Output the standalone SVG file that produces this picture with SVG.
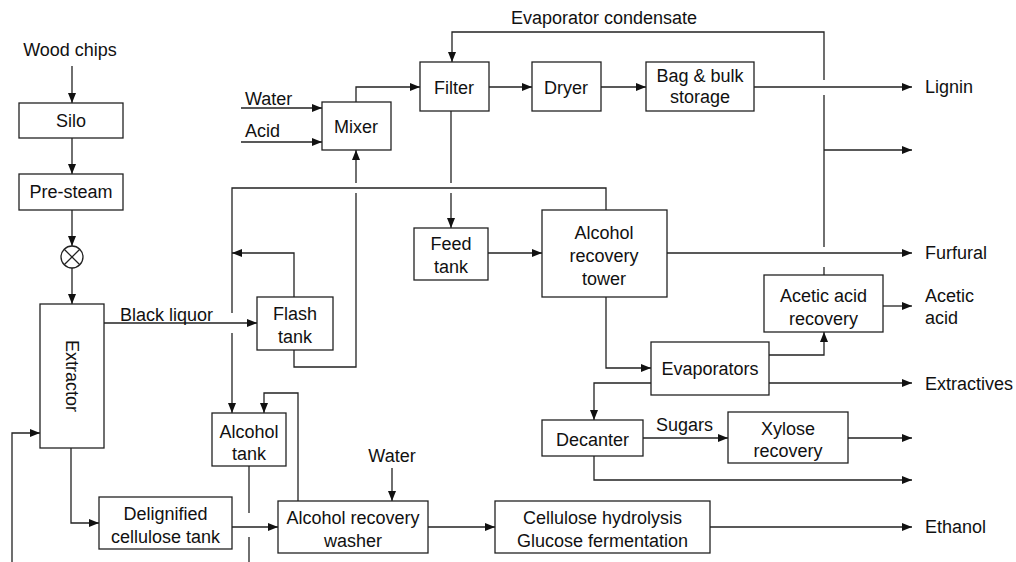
<svg xmlns="http://www.w3.org/2000/svg" width="1016" height="562" viewBox="0 0 1016 562">
  <style>
    .box { fill: #fff; stroke: #222; stroke-width: 1.3; }
    .ln { fill: none; stroke: #222; stroke-width: 1.3; }
    .arr { marker-end: url(#ah); }
    text { font-family: "Liberation Sans", Arial, sans-serif; font-size: 18px; fill: #111; }
    .c { text-anchor: middle; }
  </style>
  <defs>
    <marker id="ah" viewBox="0 0 10 8" refX="10" refY="4" markerWidth="10" markerHeight="8" markerUnits="userSpaceOnUse" orient="auto">
      <path d="M0,0 L10,4 L0,8 z" fill="#111"/>
    </marker>
  </defs>
  <rect width="1016" height="562" fill="#fff"/>

  <!-- connectors -->
  <g id="connectors">
    <!-- feed line -->
    <path class="ln arr" d="M72,66 V103"/>
    <path class="ln arr" d="M72,138 V174"/>
    <path class="ln arr" d="M72,210 V246"/>
    <path class="ln arr" d="M72,268 V304"/>
    <!-- water and acid into mixer -->
    <path class="ln arr" d="M241,108 H322"/>
    <path class="ln arr" d="M241,142 H322"/>
    <!-- mixer to filter -->
    <path class="ln arr" d="M356,102 V87 H420"/>
    <!-- evaporator condensate return -->
    <path class="ln arr" d="M824,80 V32 H452 V62"/>
    <path class="ln" d="M824,95 V247"/>
    <path class="ln" d="M824,267 V275"/>
    <path class="ln arr" d="M824,150 H912"/>
    <!-- filter / dryer / storage / lignin -->
    <path class="ln arr" d="M489,87 H532"/>
    <path class="ln arr" d="M601,87 H646"/>
    <path class="ln arr" d="M754,87 H912"/>
    <!-- filter to feed tank -->
    <path class="ln" d="M451,111 V183"/>
    <path class="ln arr" d="M451,193 V228"/>
    <!-- tower top recycle to alcohol tank -->
    <path class="ln" d="M606,210 V188 H232 V313"/>
    <path class="ln arr" d="M232,333 V413"/>
    <!-- flash tank vapour -->
    <path class="ln arr" d="M294,297 V253 H232"/>
    <!-- flash tank liquid to mixer -->
    <path class="ln" d="M294,350 V367 H356 V193"/>
    <path class="ln arr" d="M356,183 V150"/>
    <!-- black liquor -->
    <path class="ln arr" d="M104,323 H257"/>
    <!-- extractor to delignified tank -->
    <path class="ln arr" d="M71,448 V523 H99"/>
    <!-- recycle into extractor -->
    <path class="ln arr" d="M12,562 V433 H40"/>
    <!-- alcohol tank outlet -->
    <path class="ln" d="M249,466 V513"/>
    <path class="ln" d="M249,537 V562"/>
    <!-- delignified tank to washer -->
    <path class="ln arr" d="M232,527 H278"/>
    <!-- washer return to alcohol tank -->
    <path class="ln arr" d="M298,501 V393 H264 V413"/>
    <!-- water into washer -->
    <path class="ln arr" d="M392,468 V501"/>
    <!-- washer to hydrolysis, ethanol -->
    <path class="ln arr" d="M428,527 H495"/>
    <path class="ln arr" d="M710,527 H912"/>
    <!-- feed tank to tower, furfural -->
    <path class="ln arr" d="M488,253 H542"/>
    <path class="ln arr" d="M667,253 H912"/>
    <!-- tower bottoms to evaporators -->
    <path class="ln arr" d="M606,297 V368 H651"/>
    <!-- evaporators outputs -->
    <path class="ln arr" d="M769,355 H824 V332"/>
    <path class="ln arr" d="M769,383 H912"/>
    <path class="ln arr" d="M651,383 H594 V420"/>
    <!-- acetic acid -->
    <path class="ln arr" d="M883,306 H912"/>
    <!-- decanter outputs -->
    <path class="ln arr" d="M643,438 H728"/>
    <path class="ln arr" d="M848,438 H912"/>
    <path class="ln arr" d="M594,456 V480 H912"/>
  </g>

  <!-- stream labels -->
  <text x="70" y="56" class="c">Wood chips</text>
  <text x="245" y="105">Water</text>
  <text x="245" y="137">Acid</text>
  <text x="511" y="24">Evaporator condensate</text>
  <text x="925" y="93">Lignin</text>
  <text x="925" y="259">Furfural</text>
  <text x="925" y="302">Acetic</text>
  <text x="925" y="324">acid</text>
  <text x="925" y="390">Extractives</text>
  <text x="925" y="533">Ethanol</text>
  <text x="120" y="321">Black liquor</text>
  <text x="392" y="462" class="c">Water</text>
  <text x="656" y="431">Sugars</text>

  <!-- nodes -->
  <g id="silo"><rect class="box" x="19" y="103" width="104" height="35"/><text x="71" y="127" class="c">Silo</text></g>
  <g id="pre-steam"><rect class="box" x="19" y="174" width="104" height="36"/><text x="71" y="198" class="c">Pre-steam</text></g>
  <g id="valve">
    <circle class="box" cx="72" cy="257" r="11"/>
    <path class="ln" d="M64.2,249.2 L79.8,264.8 M79.8,249.2 L64.2,264.8"/>
  </g>
  <g id="extractor"><rect class="box" x="40" y="304" width="64" height="144"/><text transform="translate(66,376) rotate(90)" class="c">Extractor</text></g>
  <g id="mixer"><rect class="box" x="322" y="102" width="69" height="48"/><text x="356" y="133" class="c">Mixer</text></g>
  <g id="filter"><rect class="box" x="420" y="62" width="69" height="49"/><text x="454" y="94" class="c">Filter</text></g>
  <g id="dryer"><rect class="box" x="532" y="62" width="69" height="49"/><text x="566" y="94" class="c">Dryer</text></g>
  <g id="storage"><rect class="box" x="646" y="62" width="108" height="49"/><text x="700" y="82" class="c">Bag &amp; bulk</text><text x="700" y="103" class="c">storage</text></g>
  <g id="feed-tank"><rect class="box" x="414" y="228" width="74" height="52"/><text x="451" y="250" class="c">Feed</text><text x="451" y="273" class="c">tank</text></g>
  <g id="tower"><rect class="box" x="542" y="210" width="125" height="87"/><text x="604" y="239" class="c">Alcohol</text><text x="604" y="262" class="c">recovery</text><text x="604" y="285" class="c">tower</text></g>
  <g id="flash-tank"><rect class="box" x="257" y="297" width="76" height="53"/><text x="295" y="320" class="c">Flash</text><text x="295" y="343" class="c">tank</text></g>
  <g id="alcohol-tank"><rect class="box" x="212" y="413" width="74" height="53"/><text x="249" y="438" class="c">Alcohol</text><text x="249" y="460" class="c">tank</text></g>
  <g id="delignified-tank"><rect class="box" x="99" y="497" width="133" height="52"/><text x="165.5" y="520" class="c">Delignified</text><text x="165.5" y="543" class="c">cellulose tank</text></g>
  <g id="washer"><rect class="box" x="278" y="501" width="150" height="52"/><text x="353" y="524" class="c">Alcohol recovery</text><text x="353" y="547" class="c">washer</text></g>
  <g id="hydrolysis"><rect class="box" x="495" y="501" width="215" height="52"/><text x="602.5" y="524" class="c">Cellulose hydrolysis</text><text x="602.5" y="547" class="c">Glucose fermentation</text></g>
  <g id="evaporators"><rect class="box" x="651" y="342" width="118" height="53"/><text x="710" y="375" class="c">Evaporators</text></g>
  <g id="acetic-recovery"><rect class="box" x="764" y="275" width="119" height="57"/><text x="823.5" y="302" class="c">Acetic acid</text><text x="823.5" y="325" class="c">recovery</text></g>
  <g id="decanter"><rect class="box" x="542" y="420" width="101" height="36"/><text x="592.5" y="446" class="c">Decanter</text></g>
  <g id="xylose"><rect class="box" x="728" y="412" width="120" height="51"/><text x="788" y="435" class="c">Xylose</text><text x="788" y="457" class="c">recovery</text></g>
</svg>
